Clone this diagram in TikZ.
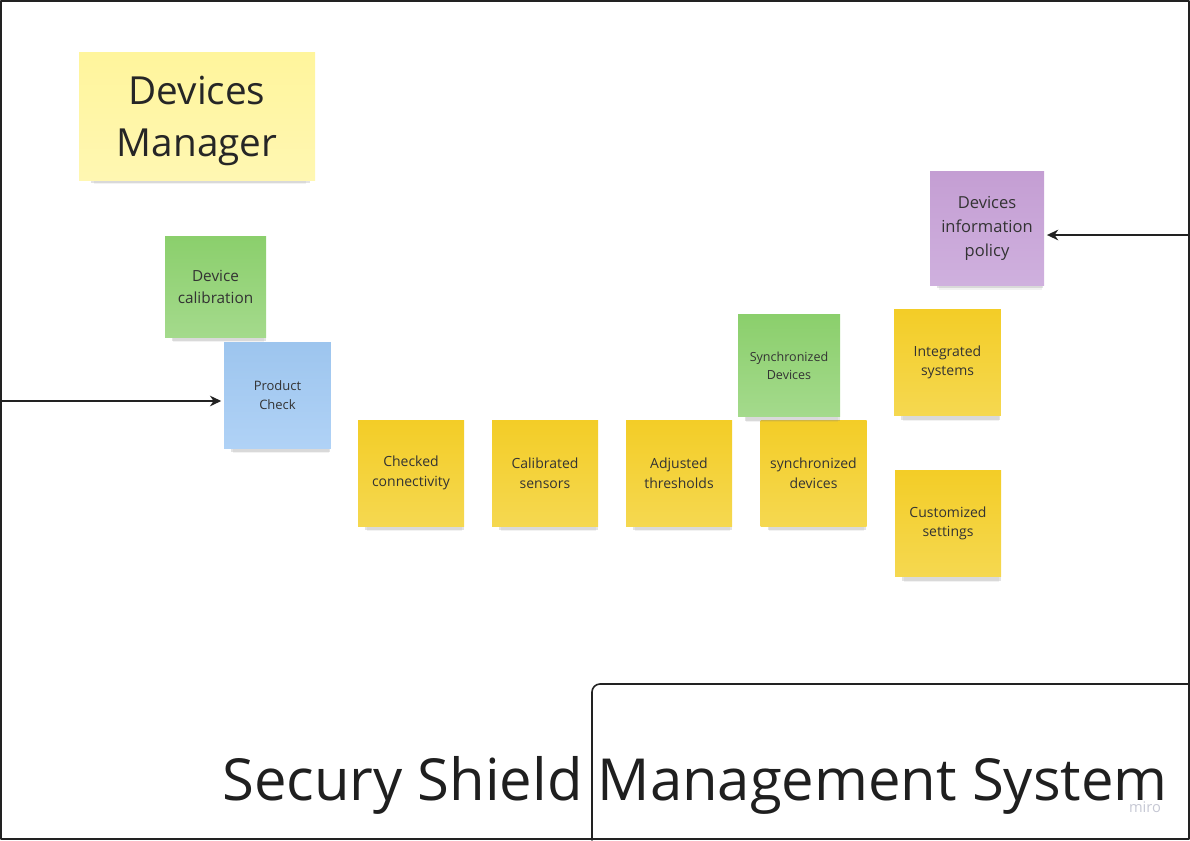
\documentclass[tikz,border=0pt]{standalone}
\usepackage{fontspec}
\setmainfont{Open Sans}
\usetikzlibrary{arrows.meta,shadows}

\definecolor{framegray}{HTML}{222222}
\definecolor{notetext}{HTML}{333333}
\definecolor{yellowtop}{HTML}{F3CD27}
\definecolor{yellowbot}{HTML}{F5D850}
\definecolor{greentop}{HTML}{8BCF6C}
\definecolor{greenbot}{HTML}{A4DA8C}
\definecolor{bluetop}{HTML}{9DC5EE}
\definecolor{bluebot}{HTML}{B0D2F6}
\definecolor{purpletop}{HTML}{C49ED3}
\definecolor{purplebot}{HTML}{CFB0DE}
\definecolor{paletop}{HTML}{FFF59C}
\definecolor{palebot}{HTML}{FFF7B2}
\definecolor{mirogray}{HTML}{C5C7D3}

\begin{document}
\begin{tikzpicture}[x=0.75pt, y=-0.75pt, >={Stealth[length=8.5pt,width=8pt]}, line join=round, line cap=round,
	note/.style={inner sep=0pt, align=center, text=notetext,
		drop shadow={shadow scale=0.9, shadow yshift=-8.5pt, opacity=0.1},
		drop shadow={shadow scale=0.93, shadow yshift=-6pt, opacity=0.22}},
	ynote/.style={note, top color=yellowtop, bottom color=yellowbot,
		minimum width=79.5pt, minimum height=79.5pt, font=\fontsize{10.5}{15}\selectfont},
	gnote/.style={note, top color=greentop, bottom color=greenbot},
	bnote/.style={note, top color=bluetop, bottom color=bluebot},
	pnote/.style={note, top color=purpletop, bottom color=purplebot},
	link/.style={->, line width=1.1pt, framegray, shorten >=2pt}]
	\useasboundingbox (0,0) rectangle (1190,840);
	
	% 1. Khung
	\draw[line width=1.5pt, framegray] (1,1) rectangle (1189,839);
	\draw[line width=1.2pt, framegray, rounded corners=6pt] (592,840) |- (1190,684);
	
	% 2. Tiêu đề
	\node[note, top color=paletop, bottom color=palebot, minimum width=177pt, minimum height=96pt]
		(mgr) at (197,116) {};
	\node[align=center, font=\fontsize{29}{39}\selectfont, text=black!85] (mgrtext)
		at ([yshift=-3.5pt]mgr.center) {Devices\\Manager};
	\node[anchor=base, font=\fontsize{43.5}{52}\selectfont, text=black!88] (title) at (695,800)
		{Secury Shield Management System};
	\node[anchor=base, font=\fontsize{11}{13}\selectfont, text=mirogray] (miro) at (1145,812) {miro};
	
	% 3. Ghi chú
	\node[gnote, minimum width=75.75pt, minimum height=75.75pt, font=\fontsize{11.5}{16.5}\selectfont]
		(calib) at (215.5,286.5) {Device\\calibration};
	\node[bnote, minimum width=80pt, minimum height=79.5pt, font=\fontsize{9.75}{14.25}\selectfont]
		(check) at (277.5,395) {Product\\Check};
	
	\foreach \x/\name/\txt in {411/conn/{Checked\\connectivity}, 545/sens/{Calibrated\\sensors},
		679/thresh/{Adjusted\\thresholds}, 813.5/syncdev/{synchronized\\devices}} {
		\node[ynote] (\name) at (\x,473) {\txt};
	}
	
	\node[gnote, minimum width=76.5pt, minimum height=77pt, font=\fontsize{9.4}{13.5}\selectfont]
		(syncgrn) at (789,365.5) {Synchronized\\Devices};
	\node[ynote, minimum width=80pt, minimum height=80pt, font=\fontsize{10.5}{14}\selectfont]
		(integ) at (947.5,362.5) {Integrated\\systems};
	\node[ynote, minimum width=79.5pt, minimum height=80pt, font=\fontsize{10.5}{14}\selectfont]
		(custom) at (948,523.5) {Customized\\settings};
	\node[pnote, minimum width=85.5pt, minimum height=85.5pt, font=\fontsize{12.4}{18}\selectfont]
		(policy) at (987,228) {Devices\\information\\policy};
	
	% 4. Mũi tên
	\coordinate (inL) at (0,401);
	\coordinate (inR) at (1189,235);
	\draw[link] (inL) -- (check.west |- inL);
	\draw[link] (inR) -- (policy.east |- inR);
\end{tikzpicture}
\end{document}
